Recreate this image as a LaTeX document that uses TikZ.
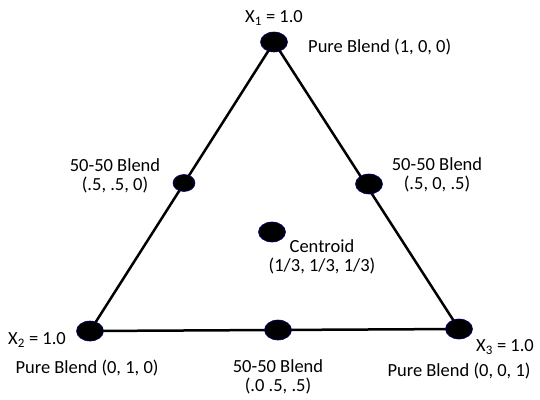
\documentclass[tikz,border=0pt]{standalone}
\usepackage{fontspec}
\setmainfont{Carlito}
\usetikzlibrary{shapes.geometric}
\begin{document}
\begin{tikzpicture}[x=1pt,y=-1pt,
  dotbig/.style={ellipse,fill=black,draw=blue!45!black,line width=0.6pt,minimum width=27pt,minimum height=20pt,inner sep=0pt},
  dotsmall/.style={dotbig,minimum width=22pt,minimum height=17pt},
  lab/.style={font=\fontsize{18.5}{19.5}\selectfont,align=center,inner sep=0pt},
  edge/.style={line width=2.5pt,black}]
\useasboundingbox (0,0) rectangle (540,399);
\coordinate (T) at (274,42);
\coordinate (L) at (90,331);
\coordinate (R) at (459,329);
\draw[edge] (T) -- (L) -- (R) -- cycle;
\node[dotbig] (vt) at (T) {};
\node[dotbig] (vl) at (L) {};
\node[dotbig] (vr) at (R) {};
\node[dotsmall] (ml) at (184,183) {};
\node[dotbig] (mr) at (369,184) {};
\node[dotbig] (mb) at (278,330) {};
\node[dotbig] (c) at (272,232) {};
\node[lab] (x1) at (274,18) {X\textsubscript{1} = 1.0};
\node[lab,anchor=west] (p1) at (308,47) {Pure Blend (1, 0, 0)};
\node[lab] (bl) at (115,176) {50-50 Blend\\(.5, .5, 0)};
\node[lab] (br) at (437,175) {50-50 Blend\\(.5, 0, .5)};
\node[lab] (ct) at (322,257) {Centroid\\(1/3, 1/3, 1/3)};
\node[lab] (x2) at (37,340) {X\textsubscript{2} = 1.0};
\node[lab] (p2) at (87,368) {Pure Blend (0, 1, 0)};
\node[lab] (bb) at (278,377) {50-50 Blend\\(.0 .5, .5)};
\node[lab] (x3) at (505,347) {X\textsubscript{3} = 1.0};
\node[lab] (p3) at (459,371) {Pure Blend (0, 0, 1)};
\end{tikzpicture}
\end{document}
